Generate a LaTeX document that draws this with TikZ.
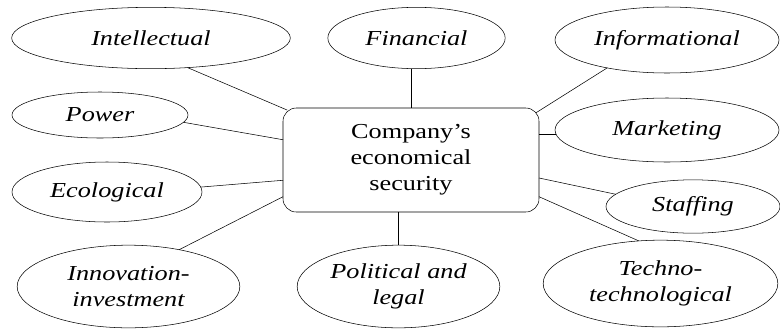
\documentclass[tikz,border=0pt]{standalone}
\usepackage{amsmath}
\usepackage{fontspec}
\setmainfont{Liberation Serif}[FakeStretch=1.23]
\usetikzlibrary{shapes.geometric}

\begin{document}
\begin{tikzpicture}[x=0.75pt,y=0.75pt,yscale=-1,xscale=1,
  oval/.style={draw,ellipse,inner sep=0pt,outer sep=0pt,align=center,font=\fontsize{16}{20}\selectfont\itshape},
  hub/.style={draw,rounded corners=10pt,inner sep=0pt,outer sep=0pt,align=center,minimum width=192pt,minimum height=78pt,font=\fontsize{16}{19.5}\selectfont}]
\useasboundingbox (0,0) rectangle (780,329);

%Shape: Rounded Rect
\node [hub] (hub) at (411,160) {Company's\\economical\\security};

%Shape: Ellipse
\node [oval,minimum width=209pt,minimum height=46pt] (intel) at (151,38) {Intellectual};
%Shape: Ellipse
\node [oval,minimum width=132pt,minimum height=34.5pt] (power) at (100,115) {Power};
%Shape: Ellipse
\node [oval,minimum width=142.5pt,minimum height=45pt] (eco) at (107,192) {Ecological};
%Shape: Ellipse
\node [oval,minimum width=167pt,minimum height=62pt] (innov) at (128.5,286.5) {Innovation-\\investment};
%Shape: Ellipse
\node [oval,minimum width=133pt,minimum height=46pt] (fin) at (416.5,38) {Financial};
%Shape: Ellipse
\node [oval,minimum width=152pt,minimum height=62pt] (pol) at (398.5,286.5) {Political and\\legal};
%Shape: Ellipse
\node [oval,minimum width=168pt,minimum height=49.5pt] (info) at (667,40) {Informational};
%Shape: Ellipse
\node [oval,minimum width=168pt,minimum height=48pt] (mark) at (667,130) {Marketing};
%Shape: Ellipse
\node [oval,minimum width=130.5pt,minimum height=40pt] (staff) at (693,206.5) {Staffing};
%Shape: Ellipse
\node [oval,minimum width=176pt,minimum height=65pt] (techno) at (660.5,283.5) {Techno-\\technological};

%Straight Lines
\draw [shorten >=-3.5pt] (intel.-39) -- (hub.158);
\draw (power.-5.5) -- (hub.171);
\draw (eco.3) -- (hub.189);
\draw (innov.36) -- (hub.196.5);
\draw (fin.south -| hub.north) -- (hub.north);
\draw (pol.north) -- (pol.north |- hub.south);
\draw [shorten >=-2.7pt] (info.205) -- (hub.21);
\draw (mark.182) -- (mark.182 -| hub.east);
\draw (staff.171.5) -- (hub.-8);
\draw (techno.117) -- (hub.-16.5);
\end{tikzpicture}
\end{document}
